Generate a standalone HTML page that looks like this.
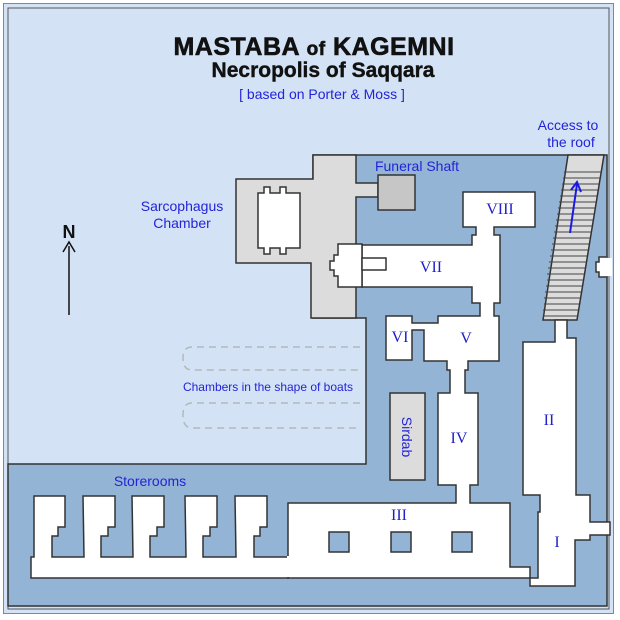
<!DOCTYPE html>
<html><head><meta charset="utf-8"><style>
html,body{margin:0;padding:0;background:#fff}
svg{display:block}
.t{font-family:"Liberation Sans",sans-serif;fill:#2323d8}
.r{font-family:"Liberation Serif",serif;fill:#2020c8;font-size:16px}
</style></head><body>
<svg width="620" height="620" viewBox="0 0 620 620" xmlns="http://www.w3.org/2000/svg">
<rect x="0" y="0" width="620" height="620" fill="#fff"/>
<rect x="3.5" y="3.5" width="610" height="610" fill="#d3e3f5" stroke="#7a8a9a" stroke-width="1"/>
<rect x="8" y="8" width="601" height="601" fill="none" stroke="#555" stroke-width="1"/>
<path d="M313,155 L607,155 L607,606 L8,606 L8,464 L366,464 L366,318 L313,318 Z" fill="#94b4d6" stroke="#333" stroke-width="1.5"/>
<path d="M313,155 L356,155 L356,183 L378,183 L378,197 L356,197 L356,318 L311,318 L311,263 L236,263 L236,179 L313,179 Z" fill="#dcdcdc" stroke="#333" stroke-width="1.5"/>
<rect x="378" y="175" width="37" height="35" fill="#c6c6c6" stroke="#333" stroke-width="1.5"/>
<path d="M258,193 L264,193 L264,187 L270,187 L270,193 L280,193 L280,187 L286,187 L286,193 L300,193 L300,248 L286,248 L286,254 L280,254 L280,248 L270,248 L270,254 L264,254 L264,248 L258,248 Z" fill="#fff" stroke="#333" stroke-width="1.5"/>
<path d="M568,155 L604,155 L577,320 L543,320 Z" fill="#dcdcdc" stroke="#333" stroke-width="1.5"/>
<g stroke="#444" stroke-width="1">
<line x1="564" y1="172" x2="601" y2="172"/><line x1="563" y1="178" x2="600" y2="178"/><line x1="562" y1="184" x2="599" y2="184"/><line x1="561" y1="190" x2="598" y2="190"/><line x1="560" y1="196" x2="597" y2="196"/><line x1="559" y1="202" x2="596" y2="202"/><line x1="558" y1="208" x2="595" y2="208"/><line x1="557" y1="214" x2="594" y2="214"/><line x1="556" y1="220" x2="593" y2="220"/><line x1="555" y1="226" x2="592" y2="226"/><line x1="554" y1="232" x2="591" y2="232"/><line x1="553" y1="238" x2="590" y2="238"/><line x1="552" y1="244" x2="589" y2="244"/><line x1="551" y1="250" x2="588" y2="250"/><line x1="550" y1="256" x2="587" y2="256"/><line x1="549" y1="262" x2="586" y2="262"/><line x1="548" y1="268" x2="585" y2="268"/><line x1="547" y1="274" x2="584" y2="274"/><line x1="547" y1="280" x2="583" y2="280"/><line x1="546" y1="286" x2="582" y2="286"/><line x1="545" y1="292" x2="581" y2="292"/><line x1="544" y1="298" x2="580" y2="298"/><line x1="544" y1="304" x2="579" y2="304"/><line x1="543" y1="310" x2="578" y2="310"/><line x1="543" y1="316" x2="577" y2="316"/>
</g>
<line x1="570" y1="233" x2="577" y2="184" stroke="#1a1ae0" stroke-width="2"/>
<path d="M571,190 L577,182 L581,192" fill="none" stroke="#1a1ae0" stroke-width="2"/>
<path d="M607,257 L599,257 L599,262 L596,262 L596,272 L599,272 L599,277 L607,277" fill="#fff" stroke="#333" stroke-width="1.5"/>
<rect x="606" y="258" width="6" height="18" fill="#fff"/>
<g fill="#fff" stroke="#333" stroke-width="1.5">
<path d="M463,192 L535,192 L535,227 L494,227 L494,235 L500,235 L500,303 L494,303 L494,316 L499,316 L499,361 L468,361 L468,370 L465,370 L465,393 L478,393 L478,485 L470,485 L470,503 L510,503 L510,567 L530,567 L530,578 L288,578 L288,503 L456,503 L456,485 L438,485 L438,393 L450,393 L450,370 L447,370 L447,361 L424,361 L424,330 L412,330 L412,360 L386,360 L386,316 L412,316 L412,323 L438,323 L438,316 L480,316 L480,303 L472,303 L472,287 L362,287 L362,245 L472,245 L472,235 L476,235 L476,227 L463,227 Z"/>
<path d="M338,244 L362,244 L362,287 L338,287 L338,276 L334,276 L334,270 L330,270 L330,261 L334,261 L334,255 L338,255 Z"/>
<rect x="362" y="258" width="24" height="12"/>
<path d="M555,320 L567,320 L567,338 L576,338 L576,495 L590,495 L590,522 L610,522 L610,535 L590,535 L590,540 L575,540 L575,586 L530,586 L530,578 L538,578 L538,512 L540,512 L540,495 L523,495 L523,342 L555,342 Z"/>
<path d="M31,557 L34,557 L34,496 L65,496 L65,527 L58,527 L58,536 L52,536 L52,557 L84,557 L83,496 L115,496 L115,527 L108,527 L108,536 L101,536 L101,557 L133,557 L132,496 L164,496 L164,527 L157,527 L157,536 L150,536 L150,557 L186,557 L185,496 L217,496 L217,527 L210,527 L210,536 L203,536 L203,557 L236,557 L235,496 L267,496 L267,527 L260,527 L260,536 L254,536 L254,557 L288,557 L288,578 L31,578 Z"/>
</g>
<rect x="287" y="556" width="3" height="21" fill="#fff"/>
<g fill="#94b4d6" stroke="#333" stroke-width="1.5">
<rect x="329" y="532" width="20" height="20"/><rect x="391" y="532" width="20" height="20"/><rect x="452" y="532" width="20" height="20"/>
</g>
<rect x="390" y="393" width="35" height="87" fill="#dcdcdc" stroke="#333" stroke-width="1.5"/>
<g fill="none" stroke="#b4b8bc" stroke-width="1.5" stroke-dasharray="7,5">
<path d="M360,347 L192,347 Q183,347 183,358 Q183,370 192,370 L360,370"/>
<path d="M360,403 L192,403 Q183,403 183,415 Q183,428 192,428 L360,428"/>
</g>
<line x1="69" y1="246" x2="69" y2="315" stroke="#111" stroke-width="1.5"/>
<path d="M63,252 L69,242 L75,252" fill="none" stroke="#111" stroke-width="1.5"/>
<text x="69" y="238" text-anchor="middle" font-family="Liberation Sans,sans-serif" font-weight="bold" font-size="18" fill="#111">N</text>
<text x="314" y="55" text-anchor="middle" font-family="Liberation Sans,sans-serif" font-weight="bold" font-size="25" letter-spacing="0.5" fill="#111" stroke="#111" stroke-width="0.6">MASTABA <tspan font-size="19">of</tspan> KAGEMNI</text>
<text x="323" y="77" text-anchor="middle" font-family="Liberation Sans,sans-serif" font-weight="bold" font-size="21" fill="#111" stroke="#111" stroke-width="0.4">Necropolis of Saqqara</text>
<text x="322" y="99" text-anchor="middle" class="t" font-size="14">[ based on Porter &amp; Moss ]</text>
<text x="568" y="130" text-anchor="middle" class="t" font-size="14">Access to</text>
<text x="571" y="147" text-anchor="middle" class="t" font-size="14">the roof</text>
<text x="417" y="171" text-anchor="middle" class="t" font-size="14">Funeral Shaft</text>
<text x="182" y="211" text-anchor="middle" class="t" font-size="14">Sarcophagus</text>
<text x="182" y="228" text-anchor="middle" class="t" font-size="14">Chamber</text>
<text x="268" y="391" text-anchor="middle" class="t" font-size="12">Chambers in the shape of boats</text>
<text x="150" y="486" text-anchor="middle" class="t" font-size="14">Storerooms</text>
<text x="407" y="437" text-anchor="middle" class="t" font-size="14" transform="rotate(90 407 437)" dy="5">Sirdab</text>
<text x="500" y="214" text-anchor="middle" class="r">VIII</text>
<text x="431" y="272" text-anchor="middle" class="r">VII</text>
<text x="400" y="342" text-anchor="middle" class="r">VI</text>
<text x="466" y="343" text-anchor="middle" class="r">V</text>
<text x="459" y="443" text-anchor="middle" class="r">IV</text>
<text x="399" y="520" text-anchor="middle" class="r">III</text>
<text x="549" y="425" text-anchor="middle" class="r">II</text>
<text x="557" y="547" text-anchor="middle" class="r">I</text>
</svg>
</body></html>
